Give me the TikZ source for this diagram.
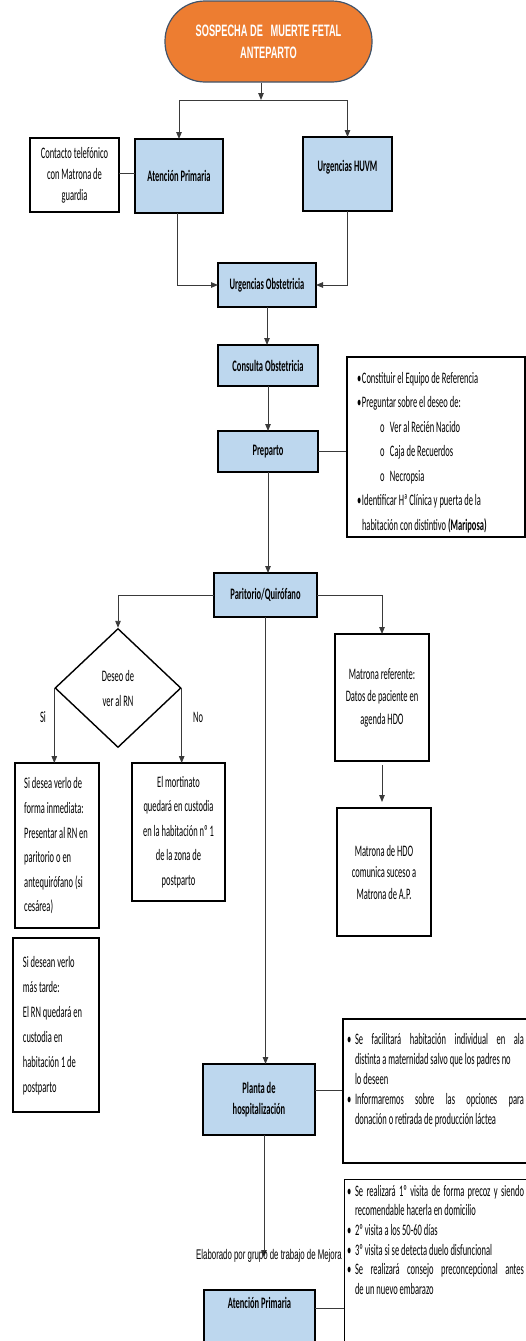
\documentclass[tikz,border=0pt]{standalone}
\usepackage{fontspec}
\setmainfont{Carlito}[FakeStretch=0.53]
\newfontfamily\titlefont{Liberation Sans}[FakeStretch=0.56]
\usetikzlibrary{shapes.geometric,arrows.meta}
\definecolor{orangefill}{HTML}{ED7D31}
\definecolor{orangeedge}{HTML}{41546B}
\definecolor{boxblue}{HTML}{BDD7EE}
\definecolor{linegrey}{HTML}{3A3A3A}
\begin{document}
\begin{tikzpicture}[x=1pt,y=-1pt,
  txt/.style={font=\fontsize{16}{21}\selectfont, inner sep=0pt, outer sep=0pt},
  boldtxt/.style={font=\fontsize{16}{21}\selectfont\bfseries, inner sep=0pt, outer sep=0pt},
  bluebox/.style={boldtxt, draw=black, line width=1.5pt, fill=boxblue, align=center},
  whitebox/.style={txt, draw=black, line width=1.4pt, fill=white, align=center},
  startbox/.style={draw=orangeedge, line width=1.2pt, fill=orangefill, rounded corners=40pt,
     text=white, align=center, inner sep=0pt, font=\fontsize{16.5}{22}\titlefont\bfseries},
  conn/.style={draw=linegrey, line width=0.9pt},
  arr/.style={conn, -{Triangle[length=7pt,width=5.5pt]}},
]
\useasboundingbox (0,0) rectangle (526,1341);
\clip (0,0) rectangle (526,1341);

% top
\node[startbox, minimum width=207pt, minimum height=81pt] (start) at (268.5,41.5)
  {SOSPECHA DE\ \ \ MUERTE FETAL\\ANTEPARTO};
\coordinate (fork) at (261,100);

\node[bluebox, minimum width=88pt, minimum height=74pt] (ap1) at (179,176) {Atención Primaria};
\node[whitebox, minimum width=89pt, minimum height=74pt] (contact) at (74.5,175)
  {Contacto telefónico\\con Matrona de\\guardia};
\node[bluebox, minimum width=89pt, minimum height=74pt,
  label={[boldtxt, yshift=7pt]center:Urgencias HUVM}] (huvm) at (347.5,174) {};

\draw[arr] (start.south -| fork) -- (fork);
\draw[arr] (fork) -| (ap1.north);
\draw[arr] (fork) -| (huvm.north);
\draw[conn] ([yshift=3pt]ap1.west) -- ([yshift=3pt]ap1.west -| contact.east);

\node[bluebox, minimum width=98pt, minimum height=44pt] (uobs) at (267,285) {Urgencias Obstetricia};
\draw[arr] ([xshift=-2pt]ap1.south) |- (uobs.west);
\draw[arr] (huvm.south) |- (uobs.east);

\node[bluebox, minimum width=100pt, minimum height=41pt] (cobs) at (268,365.5) {Consulta Obstetricia};
\node[bluebox, minimum width=100pt, minimum height=41pt] (prep) at (268,451.5) {Preparto};
\draw[arr] (uobs.south) -- (uobs.south |- cobs.north);
\draw[arr] (cobs.south) -- (cobs.south |- prep.north);

\node[draw=black, line width=1.6pt, fill=white, minimum width=178pt, minimum height=180pt,
  inner sep=0pt] (prepbul) at (436,447) {};
\node[txt, anchor=base west, font=\fontsize{16}{24.5}\selectfont] (prepbulT) at (357,383)
 {\begin{tabular}[t]{@{}l@{}}
  \makebox[5pt][l]{\textbullet}Constituir el Equipo de Referencia\\
  \makebox[5pt][l]{\textbullet}Preguntar sobre el deseo de:\\
  \hspace*{23pt}\makebox[10pt][l]{o}Ver al Recién Nacido\\
  \hspace*{23pt}\makebox[10pt][l]{o}Caja de Recuerdos\\
  \hspace*{23pt}\makebox[10pt][l]{o}Necropsia\\
  \makebox[5pt][l]{\textbullet}Identificar Hª Clínica y puerta de la\\
  \hspace*{5pt}habitación con distintivo \textbf{(Mariposa)}
 \end{tabular}};
\draw[conn] (prep.east) -- (prep.east -| prepbul.west);

\node[bluebox, minimum width=103pt, minimum height=44pt] (parit) at (265.5,595) {Paritorio/Quirófano};
\draw[arr] (prep.south) -- (prep.south |- parit.north);

% left branch
\node[diamond, draw=black, line width=1.4pt, fill=white, minimum width=126pt, minimum height=119pt,
  inner sep=0pt, align=center, font=\fontsize{16}{25}\selectfont] (dia) at (118,688) {Deseo de\\ver al RN};
\draw[arr] (parit.west) -| (dia.north);
\node[txt] (si) at (43,717) {Si};
\node[txt] (no) at (198,717) {No};

\node[whitebox, minimum width=84pt, minimum height=165pt,
  font=\fontsize{16}{24.6}\selectfont] (sibox) at (57,845.5)
  {\begin{tabular}{@{}l@{\hspace{2pt}}}
   Si desea verlo de\\forma inmediata:\\Presentar al RN en\\paritorio o en\\antequirófano (si\\cesárea)
   \end{tabular}};
\node[whitebox, minimum width=93pt, minimum height=138pt,
  font=\fontsize{16}{24.6}\selectfont] (nobox) at (178.5,832)
  {El mortinato\\quedará en custodia\\en la habitación nº 1\\de la zona de\\postparto};
\draw[arr] (dia.west) -- (dia.west |- sibox.north);
\draw[arr] (dia.east) -- (dia.east |- nobox.north);

\node[whitebox, minimum width=86pt, minimum height=174pt,
  font=\fontsize{16}{25}\selectfont] (sitarde) at (56,1025)
  {\begin{tabular}{@{}l@{\hspace{7pt}}}
   Si desean verlo\\más tarde:\\El RN quedará en\\custodia en\\habitación 1 de\\postparto
   \end{tabular}};

% right branch
\node[whitebox, minimum width=94pt, minimum height=127pt,
  font=\fontsize{16}{22.5}\selectfont] (mref) at (382,697.5)
  {Matrona referente:\\Datos de paciente en\\agenda HDO};
\node[whitebox, minimum width=94pt, minimum height=128pt,
  font=\fontsize{16}{21.5}\selectfont] (mhdo) at (384,872)
  {Matrona de HDO\\comunica suceso a\\Matrona de A.P.};
\draw[arr] (parit.east) -| (mref.north);
\draw[arr] ([yshift=-4pt]mref.south) -- ([yshift=6pt]mref.south |- mhdo.north);

% hospitalization
\node[bluebox, minimum width=112pt, minimum height=71pt] (planta) at (259,1099.5)
  {Planta de\\hospitalización};
\draw[arr] (parit.south) -- (parit.south |- planta.north);

\node[draw=black, line width=1.5pt, fill=white, minimum width=217pt, minimum height=144pt,
  inner sep=0pt] (plantabul) at (451.5,1091) {};
\node[txt, anchor=base west, font=\fontsize{16}{20}\selectfont] (plantabulT) at (347,1044)
 {\begin{tabular}[t]{@{}l@{}}
  \makebox[8pt][l]{\textbullet}\makebox[169pt][s]{Se facilitará habitación individual en ala}\\
  \hspace*{8pt}distinta a maternidad salvo que los padres no\\
  \hspace*{8pt}lo deseen\\
  \makebox[8pt][l]{\textbullet}\makebox[169pt][s]{Informaremos sobre las opciones para}\\
  \hspace*{8pt}donación o retirada de producción láctea
 \end{tabular}};
\draw[conn] ([yshift=9.5pt]planta.east) -- ([yshift=9.5pt]planta.east -| plantabul.west);

\coordinate (elab) at (264,1257);
\draw[arr] (planta.south -| elab) -- (elab);
\node[inner sep=0pt, anchor=east, font=\fontsize{14}{17}\titlefont] (elabT) at (342,1256)
  {Elaborado por grupo de trabajo de Mejora};

% bottom
\node[bluebox, minimum width=111pt, minimum height=74pt, anchor=north,
  label={[boldtxt, anchor=center, yshift=-13pt]north:Atención Primaria}] (ap2) at (259.5,1290) {};
\node[draw=black, line width=1pt, fill=white, minimum width=216pt, minimum height=222pt,
  inner sep=0pt, anchor=north west] (botbul) at (344,1179) {};
\node[txt, anchor=base west, font=\fontsize{16}{19.7}\selectfont] (botbulT) at (347,1196)
 {\begin{tabular}[t]{@{}l@{}}
  \makebox[8pt][l]{\textbullet}\makebox[169pt][s]{Se realizará 1º visita de forma precoz y siendo}\\
  \hspace*{8pt}recomendable hacerla en domicilio\\
  \makebox[8pt][l]{\textbullet}2º visita a los 50-60 días\\
  \makebox[8pt][l]{\textbullet}3º visita si se detecta duelo disfuncional\\
  \makebox[8pt][l]{\textbullet}\makebox[169pt][s]{Se realizará consejo preconcepcional antes}\\
  \hspace*{8pt}de un nuevo embarazo
 \end{tabular}};
\draw[conn] ([yshift=19pt]ap2.east) -- ([yshift=19pt]ap2.east -| botbul.west);
\end{tikzpicture}
\end{document}
